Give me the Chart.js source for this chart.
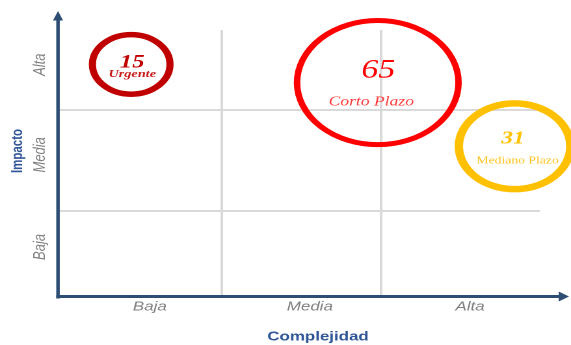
<!DOCTYPE html>
<html>
<head>
<meta charset="utf-8">
<script src="https://cdn.jsdelivr.net/npm/chart.js@4/dist/chart.umd.min.js"></script>
<style>
  html, body { margin: 0; padding: 0; background: #ffffff; overflow: hidden; }
  #wrap { width: 439px; height: 345px; transform: scaleX(1.30068); transform-origin: 0 0; }
</style>
</head>
<body>
<div id="wrap"><canvas id="c" width="439" height="345"></canvas></div>
<script>
// ---------- DATA ----------
const complejidadCats = ['Baja', 'Media', 'Alta'];
const impactoCats = ['Baja', 'Media', 'Alta'];
const bubbleNames = ['Urgente', 'Corto Plazo', 'Mediano Plazo'];
const bubbleCounts = [15, 65, 31];
const bubbleComplejidad = [0.43, 1.98, 2.84];
const bubbleImpacto = [2.45, 2.27, 1.64];

// ---------- STYLE / LAYOUT ----------
const xLabelAt = [0.547, 1.553, 2.56];
const yLabelAt = [0.645, 1.556, 2.447];
const boundaries = [1, 2];
const ringColors = ['#c00000', '#ff0000', '#ffc000'];
const ringWidths = [5.5, 5, 6.5];
const radiusScale = 7.7;
const numStyles = [
  {font: 'italic bold 19px "Liberation Serif"', color: '#c00000', dx: 0.8, dy: 3},
  {font: 'italic 26px "Liberation Serif"', color: '#ff0000', dx: 0.4, dy: -5},
  {font: 'italic bold 18px "Liberation Serif"', color: '#ffc000', dx: -1.2, dy: -3}
];
const nameStyles = [
  {font: 'italic bold 11px "Liberation Serif"', color: '#c81e1e', dx: 0.8, dy: 12.5},
  {font: 'italic 13.5px "Liberation Serif"', color: '#ff3c3c', dx: -5, dy: 22.7},
  {font: '10.5px "Liberation Serif"', color: '#ffc21a', dx: 2.3, dy: 17}
];
const axisColor = '#2e4d75';
const titleColor = '#2f5597';
const gridColor = '#d9d9d9';

function buildTicks(labelPos, labels) {
  const t = [];
  labelPos.forEach((v, i) => t.push({value: v, _lbl: labels[i], _grid: false}));
  boundaries.forEach(v => t.push({value: v, _lbl: '', _grid: true}));
  t.sort((a, b) => a.value - b.value);
  return t;
}

const bubbleLabels = {
  id: 'bubbleLabels',
  afterDatasetsDraw(chart) {
    const ctx = chart.ctx;
    const meta = chart.getDatasetMeta(0);
    meta.data.forEach((el, i) => {
      ctx.save();
      ctx.textAlign = 'center';
      ctx.textBaseline = 'alphabetic';
      const n = numStyles[i];
      ctx.font = n.font; ctx.fillStyle = n.color;
      ctx.fillText(String(bubbleCounts[i]), el.x + n.dx, el.y + n.dy);
      const s = nameStyles[i];
      ctx.font = s.font; ctx.fillStyle = s.color;
      ctx.fillText(bubbleNames[i], el.x + s.dx, el.y + s.dy);
      ctx.restore();
    });
  }
};

const axesArrows = {
  id: 'axesArrows',
  afterDraw(chart) {
    const ctx = chart.ctx;
    const a = chart.chartArea;
    ctx.save();
    ctx.strokeStyle = axisColor;
    ctx.fillStyle = axisColor;
    // y axis
    ctx.lineWidth = 2.7;
    ctx.beginPath();
    ctx.moveTo(a.left, a.bottom + 1.5);
    ctx.lineTo(a.left, 19);
    ctx.stroke();
    ctx.beginPath();
    ctx.moveTo(a.left, 11);
    ctx.lineTo(a.left - 3.9, 20.5);
    ctx.lineTo(a.left + 3.9, 20.5);
    ctx.closePath();
    ctx.fill();
    // x axis
    ctx.lineWidth = 3;
    ctx.beginPath();
    ctx.moveTo(a.left - 1.3, a.bottom - 0.5);
    ctx.lineTo(431, a.bottom - 0.5);
    ctx.stroke();
    ctx.beginPath();
    ctx.moveTo(437.5, a.bottom - 0.5);
    ctx.lineTo(429.5, a.bottom - 5.5);
    ctx.lineTo(429.5, a.bottom + 4.5);
    ctx.closePath();
    ctx.fill();
    // axis titles
    ctx.fillStyle = titleColor;
    ctx.textAlign = 'center';
    ctx.textBaseline = 'middle';
    ctx.font = 'bold 13px "Liberation Sans"';
    ctx.fillText('Complejidad', (a.left + a.right) / 2 + 14.6, 337);
    ctx.translate(13.8, 151);
    ctx.rotate(-Math.PI / 2);
    ctx.font = 'bold 11.5px "Liberation Sans"';
    ctx.fillText('Impacto', 0, 0);
    ctx.restore();
  }
};

Chart.defaults.font.family = '"Liberation Sans", Arial, sans-serif';

new Chart(document.getElementById('c'), {
  type: 'bubble',
  data: {
    datasets: [{
      data: bubbleNames.map((n, i) => ({
        x: bubbleComplejidad[i],
        y: bubbleImpacto[i],
        r: radiusScale * Math.sqrt(bubbleCounts[i])
      })),
      backgroundColor: 'rgba(0,0,0,0)',
      borderColor: ringColors,
      borderWidth: ringWidths,
      hoverBorderWidth: ringWidths,
      clip: false
    }]
  },
  options: {
    responsive: false,
    devicePixelRatio: 2,
    animation: false,
    events: [],
    layout: {autoPadding: false, padding: {top: 30, right: 23.8, left: 0, bottom: 0}},
    plugins: {legend: {display: false}, tooltip: {enabled: false}},
    scales: {
      x: {
        type: 'linear', min: -0.03, max: 3,
        afterFit: s => { s.height = 48; },
        afterBuildTicks: s => { s.ticks = buildTicks(xLabelAt, complejidadCats); },
        border: {display: false},
        grid: {
          drawTicks: false, lineWidth: 2,
          color: c => (c.tick && c.tick._grid) ? gridColor : 'rgba(0,0,0,0)'
        },
        ticks: {
          padding: 2, maxRotation: 0, minRotation: 0, autoSkip: false,
          color: '#7f7f7f', font: {size: 13, style: 'italic'},
          callback: (v, i, t) => t[i]._lbl
        }
      },
      y: {
        type: 'linear', min: 0.15, max: 2.79,
        afterFit: s => { s.width = 44.6; },
        afterBuildTicks: s => { s.ticks = buildTicks(yLabelAt, impactoCats); },
        border: {display: false},
        grid: {
          drawTicks: false, lineWidth: 2,
          color: c => (c.tick && c.tick._grid) ? gridColor : 'rgba(0,0,0,0)'
        },
        ticks: {
          padding: -4, minRotation: 90, maxRotation: 90, autoSkip: false,
          crossAlign: 'center',
          color: '#7f7f7f', font: {size: 13, style: 'italic'},
          callback: (v, i, t) => t[i]._lbl
        }
      }
    }
  },
  plugins: [bubbleLabels, axesArrows]
});
</script>
</body>
</html>
